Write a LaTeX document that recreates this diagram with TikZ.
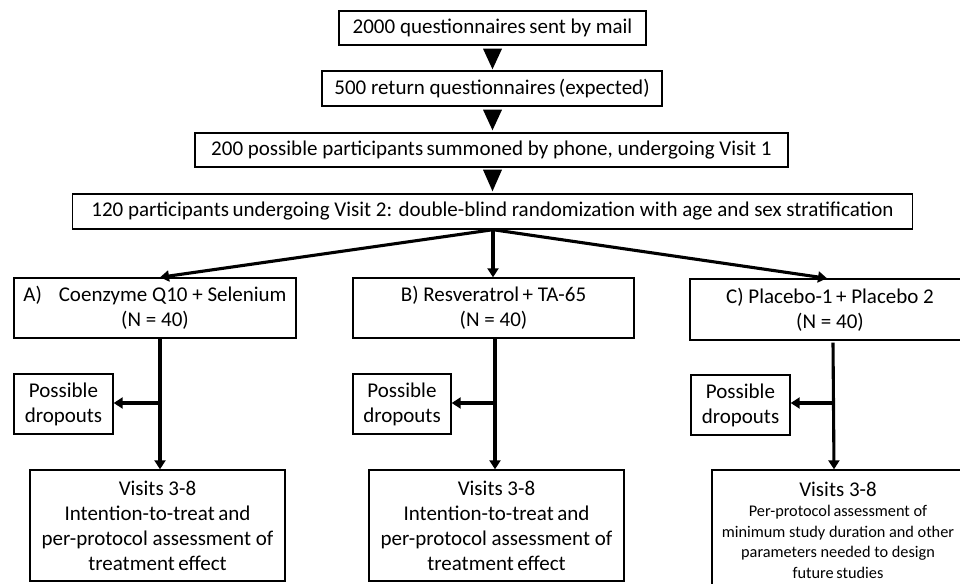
\documentclass[tikz,border=0pt]{standalone}
\usepackage{fontspec}
\setmainfont{Carlito}
\usetikzlibrary{arrows.meta,calc}
\tikzset{
  box/.style={draw=black, line width=1.4pt, inner sep=0pt, align=center,
    font=\fontsize{21}{25}\selectfont},
  smallbox/.style={box, font=\fontsize{16.3}{20.5}\selectfont},
  arr/.style={line width=3.1pt, -{Triangle[width=11pt,length=9pt]}},
}
\begin{document}
\begin{tikzpicture}[x=1pt,y=-1pt]
\useasboundingbox (0,0) rectangle (960,583);
\clip (0,0) rectangle (960,583);
% top chain
\node[box, minimum width=307pt, minimum height=34pt] (b1) at (492.5,28) {2000 questionnaires\,sent by mail};
\node[box, minimum width=340pt, minimum height=35pt] (b2) at (492,88.5) {500 return questionnaires\,(expected)};
\node[box, minimum width=593pt, minimum height=34pt] (b3) at (491.5,150) {200 possible participants\,summoned by phone, undergoing Visit 1};
\node[box, minimum width=840pt, minimum height=35pt] (b4) at (492.5,211.5) {120 participants\,undergoing Visit 2: double-blind randomization with age and sex stratification};
% arms
\node[box, minimum width=282pt, minimum height=60pt] (A) at (155,308) {A)\hspace{0.8em}Coenzyme Q10 + Selenium\\(N = 40)};
\node[box, minimum width=281pt, minimum height=60pt] (B) at (493.5,308) {B) Resveratrol\,+ TA-65\\(N = 40)};
\node[box, minimum width=280pt, minimum height=61pt] (C) at (830,309.5) {C) Placebo-1\,+ Placebo 2\\(N = 40)};
% dropouts
\node[box, minimum width=99pt, minimum height=60pt] (dA) at (63.5,404) {Possible\\dropouts};
\node[box, minimum width=98pt, minimum height=60pt] (dB) at (402,404) {Possible\\dropouts};
\node[box, minimum width=99pt, minimum height=60pt] (dC) at (740.5,405) {Possible\\dropouts};
% visits
\node[box, minimum width=255pt, minimum height=111pt] (vA) at (157.5,525.5) {Visits 3-8\\Intention-to-treat\,and\\per-protocol assessment of\\treatment\,effect};
\node[box, minimum width=255pt, minimum height=111pt] (vB) at (496.5,525.5) {Visits 3-8\\Intention-to-treat\,and\\per-protocol assessment of\\treatment\,effect};
\node[smallbox, minimum width=252pt, minimum height=120pt] (vC) at (838,530) {{\fontsize{21}{25}\selectfont Visits 3-8}\\[0pt]Per-protocol\,assessment of\\minimum study duration and other\\parameters needed to design\\future\,studies};
% triangle connectors
\fill ($(b1.south)+(-9.5,3)$) -- ($(b1.south)+(9.5,3)$) -- ($(b2.north -| b1.south)+(0,-1)$) -- cycle;
\fill ($(b2.south -| b1.south)+(-9.5,3)$) -- ($(b2.south -| b1.south)+(9.5,3)$) -- ($(b3.north -| b1.south)+(0,-2)$) -- cycle;
\fill ($(b3.south -| b1.south)+(-9.5,2)$) -- ($(b3.south -| b1.south)+(9.5,2)$) -- ($(b4.north -| b1.south)+(0,-2)$) -- cycle;
% randomization arrows
\coordinate (r) at ($(b4.south)+(0.5,0)$);
\draw[arr] (r) -- ($(A.north)+(5,0)$);
\draw[arr] (r) -- (B.north -| r);
\draw[arr] (r) -- ($(C.north)+(-3,0)$);
% arm flows
\coordinate (jA) at (160,403);
\coordinate (jB) at (495,403);
\coordinate (jC) at (833.5,403);
\draw[arr] (A.south -| jA) -- (vA.north -| jA);
\draw[arr] (jA) -- (dA.east |- jA);
\draw[arr] (B.south -| jB) -- (vB.north -| jB);
\draw[arr] (jB) -- (dB.east |- jB);
\draw[arr] ($(C.south -| jC)+(-0.5,2)$) -- ($(vC.north -| jC)+(0.5,0)$);
\draw[arr] (jC) -- (dC.east |- jC);
\end{tikzpicture}
\end{document}
